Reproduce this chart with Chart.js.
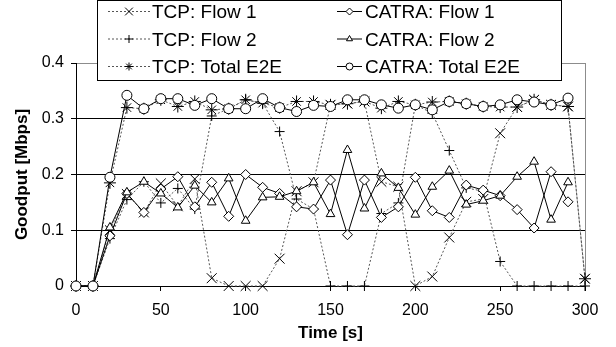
<!DOCTYPE html>
<html>
<head>
<meta charset="utf-8">
<script src="https://cdn.jsdelivr.net/npm/chart.js@4/dist/chart.umd.min.js"></script>
<style>
  html, body { margin: 0; padding: 0; background: #fff; }
  #wrap { width: 616px; height: 347px; }
</style>
</head>
<body>
<div id="wrap"><canvas id="chart" width="616" height="347"></canvas></div>
<script>
"use strict";

// time axis (s)
const times = [0, 10, 20, 30, 40, 50, 60, 70, 80, 90, 100, 110, 120, 130, 140, 150,
  160, 170, 180, 190, 200, 210, 220, 230, 240, 250, 260, 270, 280, 290, 300];

// goodput [Mbps]
const tcpFlow1 = [0, 0, 0.1, 0.165, 0.132, 0.184, 0.143, 0.192, 0.014, 0, 0, 0, 0.049, 0.17, 0.186, 0.325,
  0.327, 0.331, 0.187, 0.178, 0, 0.017, 0.087, 0.151, 0.156, 0.274, 0.321, 0.334, 0.325, 0.322, 0.013];
const tcpFlow2 = [0, 0, 0.085, 0.155, 0.187, 0.149, 0.175, 0.138, 0.305, 0.318, 0.334, 0.328, 0.277, 0.156, 0.138, 0,
  0, 0, 0.13, 0.149, 0.325, 0.31, 0.243, 0.176, 0.17, 0.044, 0, 0, 0, 0, 0];
const tcpTotal = [0, 0, 0.185, 0.32, 0.318, 0.334, 0.322, 0.331, 0.316, 0.318, 0.334, 0.328, 0.32, 0.331, 0.331, 0.325,
  0.327, 0.331, 0.319, 0.331, 0.325, 0.33, 0.331, 0.327, 0.322, 0.321, 0.321, 0.334, 0.325, 0.322, 0.013];
const catraFlow1 = [0, 0, 0.09, 0.166, 0.132, 0.174, 0.196, 0.142, 0.186, 0.125, 0.2, 0.177, 0.166, 0.142, 0.138, 0.19,
  0.092, 0.19, 0.123, 0.142, 0.195, 0.135, 0.123, 0.181, 0.172, 0.162, 0.137, 0.104, 0.205, 0.151, null];
const catraFlow2 = [0, 0, 0.105, 0.168, 0.187, 0.166, 0.141, 0.18, 0.15, 0.193, 0.117, 0.159, 0.16, 0.17, 0.186, 0.129,
  0.244, 0.139, 0.202, 0.176, 0.128, 0.178, 0.207, 0.146, 0.153, 0.162, 0.196, 0.223, 0.119, 0.186, null];
const catraTotal = [0, 0, 0.195, 0.342, 0.318, 0.336, 0.336, 0.324, 0.336, 0.318, 0.318, 0.336, 0.32, 0.313, 0.324, 0.322,
  0.334, 0.334, 0.325, 0.319, 0.325, 0.316, 0.331, 0.327, 0.322, 0.325, 0.334, 0.33, 0.325, 0.337, null];

const xTicks = [0, 50, 100, 150, 200, 250, 300];
const yTicks = [0, 0.1, 0.2, 0.3, 0.4];

const FONT = '"Liberation Sans", Arial, sans-serif';

function pts(vals) {
  return times.map((t, i) => ({ x: t, y: vals[i] }));
}

function tcp(label, vals, style, r) {
  return {
    label: label, data: pts(vals),
    borderColor: "#555", borderWidth: 1, borderDash: [2, 2],
    pointStyle: style, pointRadius: r, pointBorderColor: "#000",
    pointBackgroundColor: "#000", pointBorderWidth: 1, legendRadius: 4,
    clip: 10
  };
}
function catra(label, vals, style, r) {
  return {
    label: label, data: pts(vals),
    borderColor: "#000", borderWidth: 1,
    pointStyle: style, pointRadius: r, pointBorderColor: "#000",
    pointBackgroundColor: "#fff", pointBorderWidth: 1, legendRadius: 3.5,
    clip: 10
  };
}

const datasets = [
  tcp("TCP: Flow 1", tcpFlow1, "crossRot", 7),
  tcp("TCP: Flow 2", tcpFlow2, "cross", 5),
  tcp("TCP: Total E2E", tcpTotal, "star", 6),
  catra("CATRA: Flow 1", catraFlow1, "rectRot", 5),
  catra("CATRA: Flow 2", catraFlow2, "triangle", 5),
  catra("CATRA: Total E2E", catraTotal, "circle", 5)
];
// later series on top, like the original
datasets.forEach((d, i) => { d.order = datasets.length - i; });

// boxed two-column legend
const boxLegend = {
  id: "boxLegend",
  afterDraw(chart) {
    const ctx = chart.ctx;
    ctx.save();
    ctx.fillStyle = "#fff";
    ctx.strokeStyle = "#000";
    ctx.lineWidth = 1;
    ctx.fillRect(97.5, 0.5, 464, 80);
    ctx.strokeRect(97.5, 0.5, 464, 80);
    const rows = [11, 38.5, 66];
    chart.data.datasets.forEach((ds, i) => {
      const col = i < 3 ? 0 : 1;
      const y = rows[i % 3];
      const x0 = col ? 337 : 108, x1 = col ? 362 : 150, tx = col ? 365 : 152;
      ctx.strokeStyle = ds.borderColor;
      ctx.lineWidth = 1;
      ctx.setLineDash(ds.borderDash || []);
      ctx.beginPath();
      ctx.moveTo(x0, y + 0.5);
      ctx.lineTo(x1, y + 0.5);
      ctx.stroke();
      ctx.setLineDash([]);
      ctx.fillStyle = ds.pointBackgroundColor;
      ctx.strokeStyle = ds.pointBorderColor;
      Chart.helpers.drawPoint(ctx, {
        pointStyle: ds.pointStyle, radius: ds.legendRadius + (ds.pointStyle === "crossRot" ? 1.5 : 0),
        borderWidth: 1, rotation: 0
      }, (x0 + x1) / 2, y + 0.5);
      ctx.fillStyle = "#000";
      ctx.font = "19px " + FONT;
      ctx.textBaseline = "alphabetic";
      ctx.textAlign = "left";
      ctx.fillText(ds.label, tx, y + 7);
    });
    ctx.restore();
  }
};

const ctx = document.getElementById("chart").getContext("2d");
new Chart(ctx, {
  type: "line",
  data: { datasets: datasets },
  options: {
    responsive: false,
    animation: false,
    layout: { padding: { left: 0, right: 31, top: 63, bottom: 0 } },
    plugins: { legend: { display: false }, tooltip: { enabled: false } },
    scales: {
      x: {
        type: "linear", min: 0, max: 300,
        afterBuildTicks(s) { s.ticks = xTicks.map(v => ({ value: v })); },
        afterFit(s) { s.height = 61; },
        ticks: { color: "#000", padding: 10, maxRotation: 0, font: { family: FONT, size: 16 } },
        grid: {
          color: c => (c.tick && c.tick.value === 300 ? "#8c8c8c" : "rgba(0,0,0,0)"),
          tickColor: "#000", tickLength: 5, lineWidth: 1
        },
        border: { color: "#000", width: 1 },
        title: {
          display: true, text: "Time [s]", color: "#000",
          font: { family: FONT, size: 17, weight: "bold" }, padding: { top: 0, bottom: 3 }
        }
      },
      y: {
        min: 0, max: 0.4,
        afterBuildTicks(s) { s.ticks = yTicks.map(v => ({ value: v })); },
        afterFit(s) { s.width = 76; },
        ticks: {
          color: "#000", padding: 7, font: { family: FONT, size: 16 },
          callback: v => (v === 0 ? "0" : v.toFixed(1))
        },
        grid: {
          color: c => (c.tick && Math.abs(c.tick.value - 0.4) < 1e-6 ? "#8c8c8c" : "#000"),
          tickColor: "#000", tickLength: 5, lineWidth: 1
        },
        border: { color: "#000", width: 1 },
        title: {
          display: true, text: "Goodput [Mbps]", color: "#000",
          font: { family: FONT, size: 17, weight: "bold" }, padding: { top: 12, bottom: 0 }
        }
      }
    }
  },
  plugins: [boxLegend]
});
</script>
</body>
</html>
